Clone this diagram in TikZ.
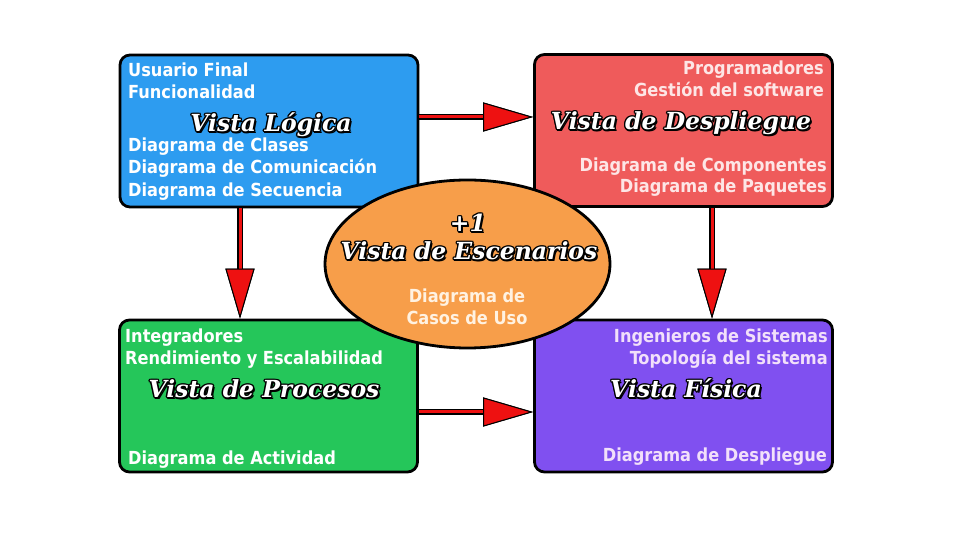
\documentclass[tikz,border=0pt]{standalone}
\usepackage{fontspec}
\newfontfamily\bodyfont{DejaVu Sans Condensed}
\newfontfamily\titlefont{DejaVu Serif}
\usetikzlibrary{arrows.meta,shapes.geometric}
\definecolor{logicblue}{HTML}{2D9CF0}
\definecolor{deployred}{HTML}{EF5B5B}
\definecolor{procgreen}{HTML}{25C65A}
\definecolor{physpurple}{HTML}{8050F0}
\definecolor{sceneorange}{HTML}{F79E4A}
\definecolor{arrowred}{HTML}{EE1111}
\definecolor{pinktext}{HTML}{FDE6E6}
\definecolor{lilactext}{HTML}{F2E0FA}
\definecolor{creamtext}{HTML}{FFF2E2}
% white letters with a black rim and shadow
\newcommand\halotext[1]{%
  \rlap{\kern2bp\raisebox{-2bp}{#1}}%
  \rlap{\kern1.4bp #1}\rlap{\kern-1.4bp #1}%
  \rlap{\raisebox{1.4bp}{#1}}\rlap{\raisebox{-1.4bp}{#1}}%
  \rlap{\kern1bp\raisebox{1bp}{#1}}\rlap{\kern-1bp\raisebox{1bp}{#1}}%
  \rlap{\kern1bp\raisebox{-1bp}{#1}}\rlap{\kern-1bp\raisebox{-1bp}{#1}}%
  \textcolor{white}{#1}}
\begin{document}
\begin{tikzpicture}[line join=round,
    viewbox/.style={draw=black,line width=2.8bp,rounded corners=10bp,
      minimum width=298bp,minimum height=152bp,inner sep=0pt},
    txt/.style={inner sep=0pt,font=\bodyfont\bfseries\fontsize{18bp}{21bp}\selectfont},
    ttl/.style={inner sep=0pt,anchor=base,text=black,
      font=\titlefont\bfseries\itshape\fontsize{23.5bp}{28bp}\selectfont},
    flow/.style={draw=arrowred,line width=3bp,
      -{Triangle[length=50bp,width=29bp,color=black,fill=arrowred,line width=1bp]},
      preaction={draw=black,line width=5.5bp}},
  ]
        \useasboundingbox (0,0) rectangle (960bp,540bp);
        %%
        \node (logica) at (269.0bp,409.0bp) [viewbox,fill=logicblue] {};
        \node (despliegue) at (683.5bp,409.5bp) [viewbox,fill=deployred] {};
        \node (procesos) at (268.5bp,144.0bp) [viewbox,fill=procgreen] {};
        \node (fisica) at (683.5bp,144.0bp) [viewbox,fill=physpurple] {};
        %
        \node (l1) at (128.0bp,463.0bp) [txt,anchor=base west,text=white] {Usuario Final};
        \node (l2) at (128.0bp,441.0bp) [txt,anchor=base west,text=white] {Funcionalidad};
        \node (lt) at (271.0bp,408.0bp) [ttl] {\halotext{Vista Lógica}};
        \node (l3) at (128.0bp,388.0bp) [txt,anchor=base west,text=white] {Diagrama de Clases};
        \node (l4) at (128.0bp,366.0bp) [txt,anchor=base west,text=white] {Diagrama de Comunicación};
        \node (l5) at (128.0bp,343.0bp) [txt,anchor=base west,text=white] {Diagrama de Secuencia};
        %
        \node (d1) at (824.0bp,465.0bp) [txt,anchor=base east,text=pinktext] {Programadores};
        \node (d2) at (824.0bp,443.0bp) [txt,anchor=base east,text=pinktext] {Gestión del software};
        \node (dt) at (681.0bp,410.0bp) [ttl] {\halotext{Vista de Despliegue}};
        \node (d3) at (827.0bp,368.0bp) [txt,anchor=base east,text=pinktext] {Diagrama de Componentes};
        \node (d4) at (827.0bp,347.0bp) [txt,anchor=base east,text=pinktext] {Diagrama de Paquetes};
        %
        \node (p1) at (125.0bp,197.0bp) [txt,anchor=base west,text=white] {Integradores};
        \node (p2) at (125.0bp,175.0bp) [txt,anchor=base west,text=white] {Rendimiento y Escalabilidad};
        \node (pt) at (264.0bp,142.0bp) [ttl] {\halotext{Vista de Procesos}};
        \node (p3) at (128.0bp,75.0bp) [txt,anchor=base west,text=white] {Diagrama de Actividad};
        %
        \node (f1) at (828.0bp,197.0bp) [txt,anchor=base east,text=lilactext] {Ingenieros de Sistemas};
        \node (f2) at (828.0bp,175.0bp) [txt,anchor=base east,text=lilactext] {Topología del sistema};
        \node (ft) at (686.0bp,142.0bp) [ttl] {\halotext{Vista Física}};
        \node (f3) at (827.0bp,78.0bp) [txt,anchor=base east,text=lilactext] {Diagrama de Despliegue};
        %
        \draw [flow] ([yshift=14bp]logica.east) -- ([yshift=13.5bp]despliegue.west);
        \draw [flow] ([xshift=-29bp]logica.south) -- ([xshift=-28.5bp]procesos.north);
        \draw [flow] ([xshift=28.5bp]despliegue.south) -- ([xshift=28.5bp]fisica.north);
        \draw [flow] ([yshift=-16bp]procesos.east) -- ([yshift=-16bp]fisica.west);
        %
        \node (escenarios) at (467.5bp,276.0bp) [draw=black,line width=2.8bp,ellipse,fill=sceneorange,
          minimum width=285bp,minimum height=168bp] {};
        \node (e1) at (468.0bp,308.0bp) [ttl] {\halotext{+1}};
        \node (et) at (469.0bp,280.0bp) [ttl] {\halotext{Vista de Escenarios}};
        \node (e2) at (467.0bp,237.0bp) [txt,anchor=base,text=creamtext] {Diagrama de};
        \node (e3) at (467.0bp,215.0bp) [txt,anchor=base,text=creamtext] {Casos de Uso};
        %
    \end{tikzpicture}
\end{document}
